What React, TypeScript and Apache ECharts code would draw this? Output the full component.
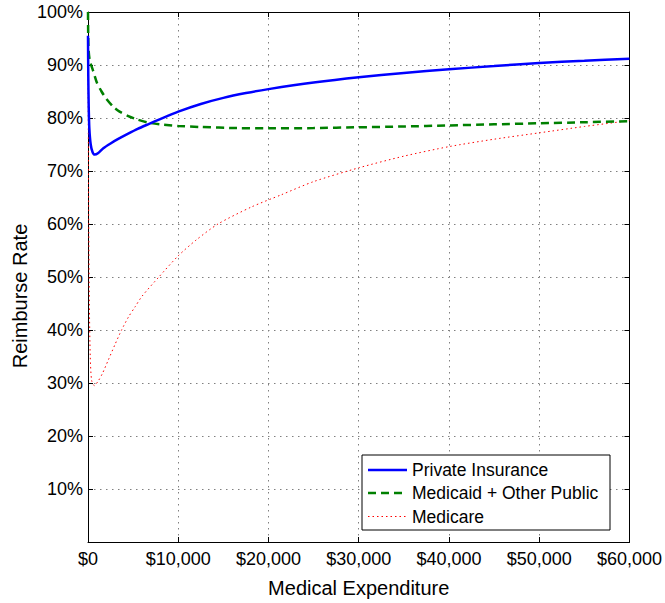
import React, { useEffect, useRef } from "react";
import * as echarts from "echarts";

// Reimbursement rate (%) against medical expenditure ($) for three payers.
const privateX = [0, 30, 80, 150, 300, 500, 740, 1100, 1700, 2500, 3300, 4400, 5500, 6775, 8000, 10000, 12500, 15000, 17500, 20000, 25000, 30000, 35000, 40000, 45000, 50000, 55000, 60000];
const privateY = [95.5, 88, 82, 78, 75, 73.6, 73.1, 73.35, 74.3, 75.2, 76.0, 77.0, 77.95, 78.9, 79.8, 81.2, 82.65, 83.8, 84.7, 85.45, 86.7, 87.7, 88.5, 89.2, 89.8, 90.4, 90.8, 91.2];

const medicaidX = [0, 20, 60, 200, 550, 1000, 1500, 2000, 2800, 3500, 4400, 5500, 6775, 8000, 10000, 12500, 16500, 20000, 25000, 30000, 35000, 40000, 45000, 50000, 55000, 60000];
const medicaidY = [100, 96, 93, 90.8, 89.0, 86.6, 85.0, 83.7, 82.1, 81.2, 80.4, 79.7, 79.1, 78.8, 78.5, 78.3, 78.1, 78.05, 78.1, 78.25, 78.4, 78.6, 78.8, 79.0, 79.2, 79.4];

const medicareX = [0, 30, 80, 150, 250, 400, 700, 1140, 1600, 2240, 3000, 3720, 4500, 5190, 6000, 7850, 10000, 12000, 14400, 18090, 21400, 25000, 30000, 35000, 40000, 45000, 50000, 55000, 60000];
const medicareY = [95, 80, 60, 45, 35, 30.5, 29.5, 30.4, 31.8, 34.3, 37.3, 40.0, 42.5, 44.3, 46.4, 50.0, 54.0, 57.0, 60.0, 63.2, 65.5, 68.0, 70.6, 72.8, 74.6, 76.0, 77.2, 78.4, 79.5];

const seriesNames = ["Private Insurance", "Medicaid + Other Public", "Medicare"];

const FONT = "Liberation Sans, Arial, Helvetica, sans-serif";

const lineStyles = [
  { color: "#0000ff", width: 2.5, type: "solid" as any, dash: null as number[] | null },
  { color: "#008000", width: 2.5, type: [8, 5] as any, dash: [8, 5] },
  { color: "#ff0000", width: 1, type: [1.5, 3] as any, dash: [1.5, 3] },
];

const pairs = (xs: number[], ys: number[]) => xs.map((x, i) => [x, ys[i]]);

export default function App() {
  const ref = useRef<HTMLDivElement>(null);

  useEffect(() => {
    if (!ref.current) return;
    const chart = echarts.init(ref.current, undefined, { renderer: "svg" });

    const datasets = [
      pairs(privateX, privateY),
      pairs(medicaidX, medicaidY),
      pairs(medicareX, medicareY),
    ];

    const gridLine = { show: true, lineStyle: { color: "#808080", width: 1, type: [1.5, 4.5] as any } };
    const tick = { show: true, inside: true, length: 5, lineStyle: { color: "#000", width: 1 } };
    const axisLine = { show: true, onZero: false, lineStyle: { color: "#000", width: 1 } };

    // Legend drawn as a framed box in the lower right of the plot
    const lx = 362, ly = 455, lw = 248, lh = 75;
    const rowY = [470, 493, 516.5];
    const overlay: any[] = [
      {
        type: "rect",
        shape: { x: lx, y: ly, width: lw, height: lh },
        style: { fill: "#fff", stroke: "#000", lineWidth: 1 },
        z: 100,
      },
      // y-axis title
      {
        type: "text",
        x: 20,
        y: 296,
        rotation: Math.PI / 2,
        style: { text: "Reimburse Rate", fill: "#000", font: `20px ${FONT}`, align: "center", verticalAlign: "middle" },
        z: 101,
      },
    ];
    seriesNames.forEach((name, i) => {
      const ls = lineStyles[i];
      overlay.push({
        type: "line",
        shape: { x1: 368, y1: rowY[i], x2: 407, y2: rowY[i] },
        style: { stroke: ls.color, lineWidth: ls.width, lineDash: ls.dash || undefined },
        z: 101,
      });
      overlay.push({
        type: "text",
        x: 412,
        y: rowY[i],
        style: { text: name, fill: "#000", font: `17.5px ${FONT}`, verticalAlign: "middle" },
        z: 101,
      });
    });

    chart.setOption({
      animation: false,
      backgroundColor: "#fff",
      textStyle: { fontFamily: FONT },
      grid: { left: 88, top: 12, right: 34, bottom: 48, containLabel: false },
      xAxis: [
        {
          type: "value",
          min: 0,
          max: 60000,
          interval: 10000,
          position: "bottom",
          name: "Medical Expenditure",
          nameLocation: "middle",
          nameGap: 36,
          nameTextStyle: { color: "#000", fontSize: 20, fontFamily: FONT },
          axisLine,
          axisTick: tick,
          splitLine: gridLine,
          axisLabel: {
            color: "#000",
            fontSize: 18,
            fontFamily: FONT,
            margin: 8,
            formatter: (v: number) => "$" + v.toLocaleString("en-US"),
          },
        },
        {
          type: "value",
          min: 0,
          max: 60000,
          interval: 10000,
          position: "top",
          axisLine,
          axisTick: tick,
          splitLine: { show: false },
          axisLabel: { show: false },
        },
      ],
      yAxis: [
        {
          type: "value",
          min: 0,
          max: 100,
          interval: 10,
          position: "left",
          axisLine,
          axisTick: tick,
          splitLine: gridLine,
          axisLabel: {
            color: "#000",
            fontSize: 18,
            fontFamily: FONT,
            margin: 5,
            formatter: (v: number) => (v === 0 ? "" : v + "%"),
          },
        },
        {
          type: "value",
          min: 0,
          max: 100,
          interval: 10,
          position: "right",
          axisLine,
          axisTick: tick,
          splitLine: { show: false },
          axisLabel: { show: false },
        },
      ],
      series: datasets.map((data, i) => ({
        name: seriesNames[i],
        type: "line",
        data,
        xAxisIndex: 0,
        yAxisIndex: 0,
        showSymbol: false,
        symbol: "none",
        smooth: 0.25,
        z: 10 - i,
        lineStyle: { color: lineStyles[i].color, width: lineStyles[i].width, type: lineStyles[i].type },
      })),
      graphic: overlay,
    });

    return () => chart.dispose();
  }, []);

  return (
    <div
      ref={ref}
      style={{ position: "fixed", left: 0, top: 0, width: 665, height: 603, background: "#fff" }}
    />
  );
}
